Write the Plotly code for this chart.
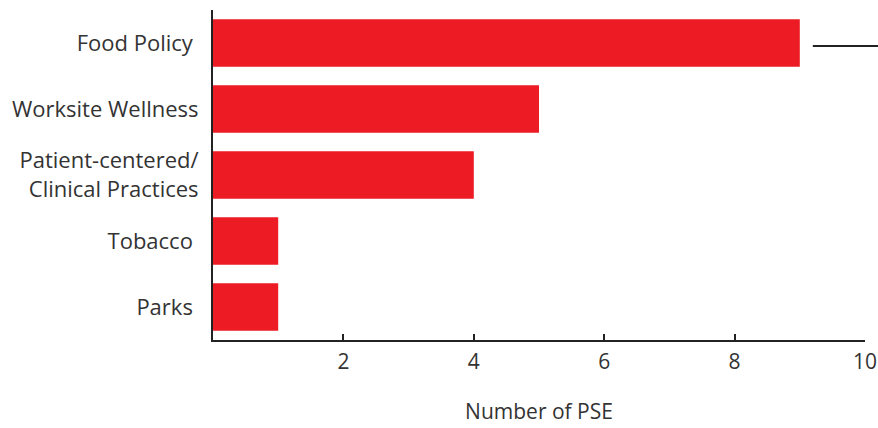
import plotly.graph_objects as go

# Categories (top to bottom) and PSE counts
categories = ["Food Policy\u00a0", "Worksite Wellness", "Patient-centered/<br>Clinical Practices", "Tobacco\u00a0", "Parks\u00a0"]
values = [9, 5, 4, 1, 1]
tick_values = [2, 4, 6, 8, 10]
tick_labels = ["2", "4", "6", "8", "10"]

bar_color = "#ED1C24"
axis_color = "#222222"
text_color = "#333333"
font_family = "'Open Sans', Lato, sans-serif"

fig = go.Figure(
    go.Bar(
        x=values,
        y=categories,
        orientation="h",
        marker=dict(color=bar_color, line=dict(width=0)),
        width=0.72,
    )
)

fig.update_layout(
    width=878,
    height=428,
    margin=dict(l=213, r=13, t=10, b=88),
    paper_bgcolor="white",
    plot_bgcolor="white",
    showlegend=False,
    font=dict(family=font_family, color=text_color),
    shapes=[
        dict(
            type="line", xref="paper", yref="paper",
            x0=0.92, x1=1.02, y0=0.891, y1=0.891,
            line=dict(color=axis_color, width=2),
        )
    ],
)

fig.update_xaxes(
    range=[0, 10],
    automargin=False,
    tickvals=tick_values,
    ticktext=tick_labels,
    ticks="inside",
    ticklen=6,
    tickwidth=2,
    tickcolor=axis_color,
    showline=True,
    linecolor=axis_color,
    linewidth=2,
    showgrid=False,
    zeroline=False,
    tickfont=dict(size=21, color=text_color),
    ticklabelstandoff=2,
    title=dict(text="Number of PSE", font=dict(size=21, color=text_color), standoff=30),
    fixedrange=True,
)

fig.update_yaxes(
    categoryorder="array",
    categoryarray=categories[::-1],
    range=[-0.5, 4.5],
    automargin=False,
    showline=True,
    linecolor=axis_color,
    linewidth=2,
    ticks="",
    showgrid=False,
    zeroline=False,
    tickfont=dict(size=22, color=text_color),
    ticklabelstandoff=8,
    fixedrange=True,
)

fig.write_html("out.html")
